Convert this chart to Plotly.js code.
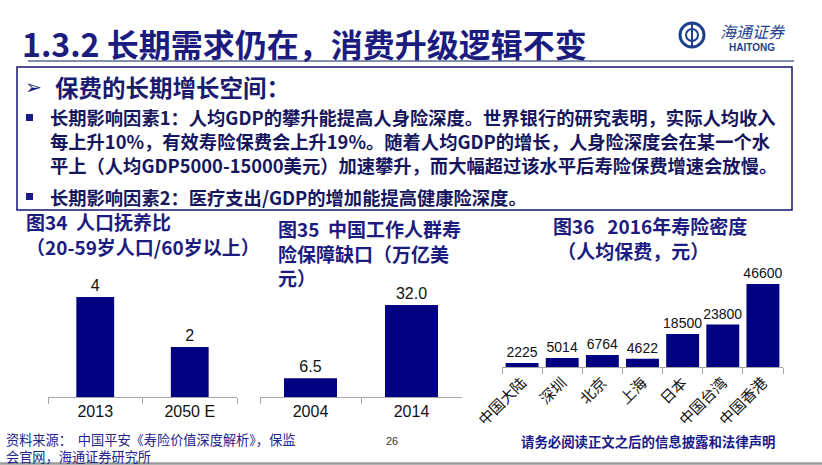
<!DOCTYPE html>
<html>
<head>
<meta charset="utf-8">
<script src="https://cdn.plot.ly/plotly-3.0.1.min.js"></script>
<style>
html,body{margin:0;padding:0;background:#fff;}
#chart{width:822px;height:465px;}
</style>
</head>
<body>
<div id="chart"></div>
<script>
// ---- data ----
const cat34 = ['2013', '2050 E'];
const val34 = [4, 2];
const cat35 = ['2004', '2014'];
const val35 = [6.5, 32.0];
const cat36 = ['中国大陆', '深圳', '北京', '上海', '日本', '中国台湾', '中国香港'];
const val36 = [2225, 5014, 6764, 4622, 18500, 23800, 46600];

const pageTitle = '1.3.2 长期需求仍在，消费升级逻辑不变';
const boxHead = '保费的长期增长空间：';
const bullet1 = [
  '长期影响因素1：人均GDP的攀升能提高人身险深度。世界银行的研究表明，实际人均收入',
  '每上升10%，有效寿险保费会上升19%。随着人均GDP的增长，人身险深度会在某一个水',
  '平上（人均GDP5000-15000美元）加速攀升，而大幅超过该水平后寿险保费增速会放慢。'
];
const bullet2 = '长期影响因素2：医疗支出/GDP的增加能提高健康险深度。';
const title34 = ['图34&#160;&#160;人口抚养比', '（20-59岁人口/60岁以上）'];
const title35 = ['图35&#160;&#160;中国工作人群寿', '险保障缺口（万亿美', '元）'];
const title36 = ['图36&#160;&#160;&#160;2016年寿险密度', '&#160;（人均保费，元）'];
const source = ['资料来源：&#160;&#160;中国平安《寿险价值深度解析》，保监', '会官网，海通证券研究所'];
const pageNo = '26';
const disclaimer = '请务必阅读正文之后的信息披露和法律声明';

// ---- layout helpers ----
const W = 822, H = 465;
const X = p => p / W;
const Y = p => 1 - p / H;
const NAVY = '#000080';
const HEAD = '#1c1c80';
const CJK = '"Noto Sans CJK SC", "Noto Sans", sans-serif';
const ARIAL = '"Liberation Sans", Arial, sans-serif';

const traces = [
  {type: 'bar', x: cat34, y: val34, xaxis: 'x', yaxis: 'y', width: 0.40,
   marker: {color: NAVY}, text: val34.map(v => String(v)), textposition: 'outside',
   constraintext: 'none',
   textfont: {family: ARIAL, size: 16, color: '#111'}, cliponaxis: false, hoverinfo: 'skip'},
  {type: 'bar', x: cat35, y: val35, xaxis: 'x2', yaxis: 'y2', width: 0.525,
   marker: {color: NAVY}, text: val35.map(v => v.toFixed(1)), textposition: 'outside',
   constraintext: 'none',
   textfont: {family: ARIAL, size: 16, color: '#111'}, cliponaxis: false, hoverinfo: 'skip'},
  {type: 'bar', x: cat36, y: val36, xaxis: 'x3', yaxis: 'y3', width: 0.82,
   marker: {color: NAVY}, text: val36.map(v => String(v)), textposition: 'outside',
   constraintext: 'none',
   textfont: {family: ARIAL, size: 14, color: '#111'}, cliponaxis: false, hoverinfo: 'skip'}
];

function xax(d0, d1, anchor, extra) {
  return Object.assign({
    domain: [X(d0), X(d1)], anchor: anchor, type: 'category',
    showline: true, linecolor: '#a6a6a6', linewidth: 1,
    ticks: 'outside', tickson: 'boundaries', ticklen: 6, tickcolor: '#a6a6a6',
    showgrid: false, zeroline: false, fixedrange: true,
    tickfont: {family: ARIAL, size: 16, color: '#111'}
  }, extra || {});
}
function yax(b, t, r, anchor) {
  return {domain: [Y(b), Y(t)], range: r, anchor: anchor, visible: false, fixedrange: true};
}

const ann = [];
function txt(s, x, y, size, color, opts) {
  ann.push(Object.assign({text: s, x: X(x), y: Y(y), xref: 'paper', yref: 'paper',
    xanchor: 'left', yanchor: 'middle', align: 'left', showarrow: false,
    font: {family: CJK, size: size, color: color}}, opts || {}));
}
const b = s => '<b>' + s + '</b>';

txt(b(pageTitle), 20, 43, 32, HEAD);
txt('<i>海通证券</i>', 718, 31, 16, '#1f3f8f');
txt(b('HAITONG'), 727, 47, 10, '#1f3f8f', {font: {family: ARIAL, size: 10, color: '#1f3f8f'}});
txt('➢', 23, 87, 20, HEAD, {font: {family: '"DejaVu Sans", sans-serif', size: 20, color: HEAD}});
txt(b(boxHead), 53, 87, 23.5, '#1a1a6e');
txt(b(bullet1.join('<br>')), 48, 141, 18.3, '#16165e');
txt(b(bullet2), 48, 197, 18.3, '#16165e');
txt(b(title34.join('<br>')), 24, 234, 19, HEAD);
txt(b(title35.join('<br>')), 276, 253, 19, HEAD);
txt(b(title36.join('<br>')), 551, 238, 19, HEAD);
txt(source.join('<br>'), 4, 448, 13.2, '#22228a');
txt(pageNo, 384, 441, 11, '#333', {font: {family: ARIAL, size: 11, color: '#333'}});
txt(b(disclaimer), 519, 441, 13.4, '#1a1a8a');

const shapes = [
  // line under title
  {type: 'line', xref: 'paper', yref: 'paper', x0: X(28), x1: X(794), y0: Y(61), y1: Y(61),
   line: {color: '#5b6a96', width: 1.5}},
  // box
  {type: 'rect', xref: 'paper', yref: 'paper', x0: X(17), x1: X(792), y0: Y(67), y1: Y(210),
   line: {color: '#14146e', width: 1.5}},
  // bullet squares
  {type: 'rect', xref: 'paper', yref: 'paper', x0: X(26), x1: X(33), y0: Y(114), y1: Y(121),
   fillcolor: '#1a1a8a', line: {width: 0}},
  {type: 'rect', xref: 'paper', yref: 'paper', x0: X(26), x1: X(33), y0: Y(193), y1: Y(200),
   fillcolor: '#1a1a8a', line: {width: 0}},
  // logo emblem
  {type: 'circle', xref: 'paper', yref: 'paper', x0: X(680), x1: X(704), y0: Y(23), y1: Y(47),
   line: {color: '#1f3f8f', width: 3}},
  {type: 'circle', xref: 'paper', yref: 'paper', x0: X(686), x1: X(698), y0: Y(29), y1: Y(41),
   line: {color: '#1f3f8f', width: 2}},
  {type: 'line', xref: 'paper', yref: 'paper', x0: X(692), x1: X(692), y0: Y(24), y1: Y(46),
   line: {color: '#1f3f8f', width: 2}},
  // bottom grey rule
  {type: 'line', xref: 'paper', yref: 'paper', x0: 0, x1: 1, y0: Y(463.5), y1: Y(463.5),
   line: {color: '#9a9a9a', width: 2.5}}
];

const layout = {
  width: W, height: H, margin: {l: 0, r: 0, t: 0, b: 0},
  paper_bgcolor: '#fff', plot_bgcolor: 'rgba(0,0,0,0)', showlegend: false,
  xaxis: xax(48, 237, 'y'),
  yaxis: yax(397, 272, [0, 5], 'x'),
  xaxis2: xax(260, 462, 'y2'),
  yaxis2: yax(397, 272, [0, 43.48], 'x2'),
  xaxis3: xax(502, 783, 'y3', {tickangle: -45, tickfont: {family: CJK, size: 15, color: '#111'}}),
  yaxis3: yax(367, 272, [0, 53340], 'x3'),
  annotations: ann, shapes: shapes
};

Plotly.newPlot('chart', traces, layout, {displayModeBar: false, staticPlot: true});
</script>
</body>
</html>
